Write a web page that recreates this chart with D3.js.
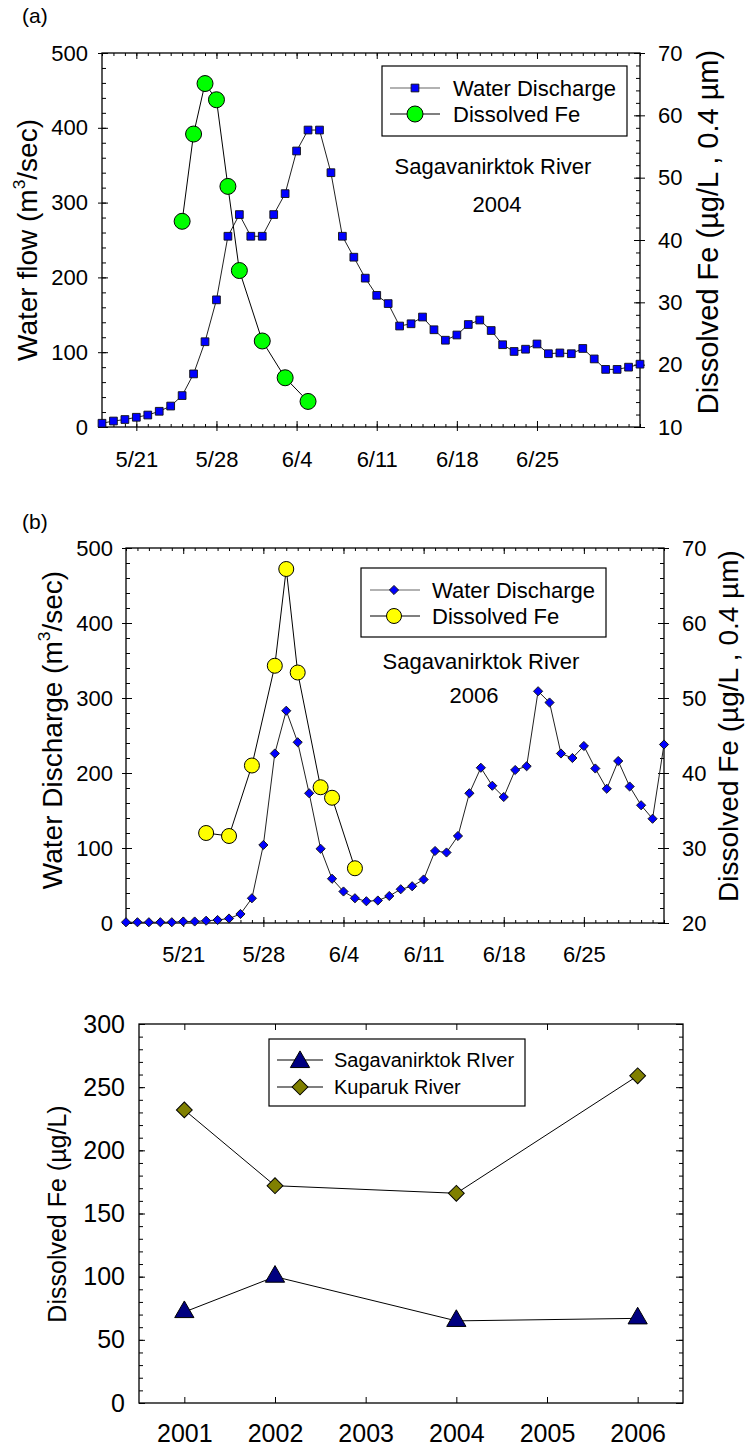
<!DOCTYPE html>
<html>
<head>
<meta charset="utf-8">
<script src="https://cdn.jsdelivr.net/npm/d3@7"></script>
<style>
  body { margin: 0; background: #fff; }
  svg text { font-family: "Liberation Sans", Arial, sans-serif; fill: #000; }
</style>
</head>
<body>
<svg id="fig" width="746" height="1448"></svg>
<script>
// ---- (a) Sagavanirktok River, 2004: daily discharge from 18 May ----
const flowStart2004 = "2004-05-18";
const flow2004 = [5, 8, 10, 13, 16, 21, 28, 42, 71, 114,
  170, 255, 284, 255, 255, 284, 312, 369, 397, 397,
  340, 255, 227, 199, 176, 165, 135, 138, 147, 130,
  116, 123, 137, 143, 129, 110, 101, 104, 111, 98,
  99, 98, 105, 91, 77, 77, 80, 84];
const feDates2004 = ["2004-05-25", "2004-05-26", "2004-05-27", "2004-05-28", "2004-05-29",
  "2004-05-30", "2004-06-01", "2004-06-03", "2004-06-05"];
const fe2004 = [43.0, 57.0, 65.1, 62.5, 48.6, 35.1, 23.8, 17.9, 14.1];

// ---- (b) Sagavanirktok River, 2006: daily discharge from 16 May ----
const flowStart2006 = "2006-05-16";
const flow2006 = [1, 1, 1, 1, 1, 2, 2, 3, 4, 6,
  12, 33, 104, 226, 283, 241, 173, 99, 59, 42,
  33, 29, 30, 36, 45, 49, 58, 96, 94, 116,
  173, 207, 183, 168, 204, 209, 309, 294, 226, 220,
  236, 206, 179, 216, 182, 157, 139, 238];
const feDates2006 = ["2006-05-23", "2006-05-25", "2006-05-27", "2006-05-29", "2006-05-30",
  "2006-05-31", "2006-06-02", "2006-06-03", "2006-06-05"];
const fe2006 = [32.0, 31.6, 41.0, 54.3, 67.2, 53.4, 38.1, 36.7, 27.3];

// shared tick labels for the discharge panels
const dateTickLabels = ["5/21", "5/28", "6/4", "6/11", "6/18", "6/25"];
const flowTicks = [0, 100, 200, 300, 400, 500];
const feTicks2004 = [10, 20, 30, 40, 50, 60, 70];
const feTicks2006 = [20, 30, 40, 50, 60, 70];

// ---- (c) annual dissolved Fe ----
const years = [2001, 2002, 2004, 2006];
const sagFe = [72, 100, 65, 67];
const kupFe = [232, 172, 166, 259];
const yearTickLabels = ["2001", "2002", "2003", "2004", "2005", "2006"];
const annualFeTicks = [0, 50, 100, 150, 200, 250, 300];

const FONT = '"Liberation Sans", Arial, sans-serif';
const svg = d3.select("#fig");
svg.append("rect").attr("width", 746).attr("height", 1448).attr("fill", "#fff");

const parseDay = d3.utcParse("%Y-%m-%d");
const parseMD = d3.utcParse("%Y/%m/%d");

function addAxis(g, axis, tx, ty, size) {
  const a = g.append("g")
    .attr("transform", `translate(${tx},${ty})`)
    .call(axis);
  a.attr("font-family", FONT).attr("font-size", size || 10);
  a.select(".domain").remove();
  a.selectAll("line").attr("stroke", "#000").attr("stroke-width", 1);
  a.selectAll("text").attr("fill", "#000").style("font-size", (size || 10) + "px");
  return a;
}

function rotatedTitle(g, x, y, size, parts) {
  const t = g.append("text")
    .attr("transform", `translate(${x},${y}) rotate(-90)`)
    .attr("text-anchor", "middle")
    .style("font-size", size + "px");
  parts.forEach(p => {
    if (p.sup) {
      t.append("tspan").attr("dy", -size * 0.42).style("font-size", (size * 0.62) + "px").text(p.t);
    } else if (p.after) {
      t.append("tspan").attr("dy", size * 0.42).text(p.t);
    } else {
      t.append("tspan").text(p.t);
    }
  });
}

function frame(g, o) {
  g.append("rect")
    .attr("x", o.left).attr("y", o.top)
    .attr("width", o.right - o.left).attr("height", o.bottom - o.top)
    .attr("fill", "none").attr("stroke", "#000").attr("stroke-width", 1.3);
}

const squareMarker = d3.symbol().type(d3.symbolSquare);

function timePanel(o) {
  const g = svg.append("g");
  const start = parseDay(o.start);
  const days = d3.utcDay.range(start, d3.utcDay.offset(start, o.flow.length));
  const year = o.start.slice(0, 4);
  const majors = dateTickLabels.map(s => parseMD(year + "/" + s));

  const x = d3.scaleUtc().domain([days[0], days[days.length - 1]]).range([o.left, o.right]);
  const y = d3.scaleLinear().domain([0, 500]).range([o.bottom, o.top]);
  const y2 = d3.scaleLinear().domain([o.feTicks[0], o.feTicks[o.feTicks.length - 1]]).range([o.bottom, o.top]);

  // bottom / top date ticks
  addAxis(g, d3.axisBottom(x).tickValues(days).tickSize(-3).tickFormat(""), 0, o.bottom);
  addAxis(g, d3.axisBottom(x).tickValues(majors).tickSize(-6).tickFormat(""), 0, o.bottom);
  addAxis(g, d3.axisBottom(x).tickValues(majors).tickSizeInner(4).tickSizeOuter(0)
    .tickPadding(o.xPad).tickFormat((d, i) => dateTickLabels[i]), 0, o.bottom, o.tick);
  addAxis(g, d3.axisTop(x).tickValues(days).tickSize(-3).tickFormat(""), 0, o.top);
  addAxis(g, d3.axisTop(x).tickValues(majors).tickSize(-6).tickFormat(""), 0, o.top);

  // left discharge axis
  addAxis(g, d3.axisLeft(y).tickValues(d3.range(0, 501, 20)).tickSize(-4).tickFormat(""), o.left, 0);
  addAxis(g, d3.axisLeft(y).tickValues(flowTicks).tickSize(-6).tickFormat(""), o.left, 0);
  addAxis(g, d3.axisLeft(y).tickValues(flowTicks).tickSizeInner(4).tickSizeOuter(0)
    .tickPadding(o.yPad).tickFormat(d3.format("d")), o.left, 0, o.tick);

  // right Fe axis
  addAxis(g, d3.axisRight(y2).tickValues(d3.range(o.feTicks[0], o.feTicks[o.feTicks.length - 1] + 0.1, 2))
    .tickSize(-4).tickFormat(""), o.right, 0);
  addAxis(g, d3.axisRight(y2).tickValues(o.feTicks).tickSize(-6).tickFormat(""), o.right, 0);
  addAxis(g, d3.axisRight(y2).tickValues(o.feTicks).tickSizeInner(5).tickSizeOuter(0)
    .tickPadding(o.y2Pad).tickFormat(d3.format("d")), o.right, 0, o.tick);

  frame(g, o);

  // discharge series
  const flowPts = days.map((d, i) => ({ d, v: o.flow[i] }));
  g.append("path").datum(flowPts)
    .attr("fill", "none").attr("stroke", "#222").attr("stroke-width", 1)
    .attr("d", d3.line().x(p => x(p.d)).y(p => y(p.v)));
  g.append("g").selectAll("path").data(flowPts).join("path")
    .attr("transform", p => `translate(${x(p.d)},${y(p.v)})` + (o.flowMarker === "diamond" ? " rotate(45)" : ""))
    .attr("d", squareMarker.size(o.flowSize)())
    .attr("fill", "#0000ff").attr("stroke", "#111").attr("stroke-width", 0.9);

  // dissolved Fe series
  const fePts = o.feDates.map((s, i) => ({ d: parseDay(s), v: o.fe[i] }));
  g.append("path").datum(fePts)
    .attr("fill", "none").attr("stroke", "#000").attr("stroke-width", 1)
    .attr("d", d3.line().x(p => x(p.d)).y(p => y2(p.v)));
  g.append("g").selectAll("circle").data(fePts).join("circle")
    .attr("cx", p => x(p.d)).attr("cy", p => y2(p.v)).attr("r", o.feR)
    .attr("fill", o.feColor).attr("stroke", "#000").attr("stroke-width", 1);

  // legend
  const L = o.legend;
  g.append("rect").attr("x", L.x).attr("y", L.y).attr("width", L.w).attr("height", L.h)
    .attr("fill", "#fff").attr("stroke", "#000").attr("stroke-width", 1.2);
  const rows = [
    { label: "Water Discharge", y: L.y + L.r1 },
    { label: "Dissolved Fe", y: L.y + L.r2 }
  ];
  g.append("line").attr("x1", L.x + L.l1).attr("x2", L.x + L.l2).attr("y1", rows[0].y).attr("y2", rows[0].y)
    .attr("stroke", "#666").attr("stroke-width", 1.2);
  g.append("path")
    .attr("transform", `translate(${L.x + L.m},${rows[0].y})` + (o.flowMarker === "diamond" ? " rotate(45)" : ""))
    .attr("d", squareMarker.size(o.flowSize)())
    .attr("fill", "#0000ff").attr("stroke", "#111").attr("stroke-width", 0.9);
  g.append("line").attr("x1", L.x + L.l1).attr("x2", L.x + L.l2).attr("y1", rows[1].y).attr("y2", rows[1].y)
    .attr("stroke", "#000").attr("stroke-width", 1.2);
  g.append("circle").attr("cx", L.x + L.m).attr("cy", rows[1].y).attr("r", o.feR)
    .attr("fill", o.feColor).attr("stroke", "#000");
  rows.forEach(r => g.append("text").attr("x", L.x + L.t).attr("y", r.y).attr("dy", "0.36em")
    .style("font-size", o.legendSize + "px").text(r.label));

  // station annotation
  g.append("text").attr("x", o.note.x).attr("y", o.note.y1).attr("text-anchor", "middle")
    .style("font-size", o.legendSize + "px").text("Sagavanirktok River");
  g.append("text").attr("x", o.note.x2).attr("y", o.note.y2).attr("text-anchor", "middle")
    .style("font-size", o.legendSize + "px").text(year);

  // panel letter and axis titles
  g.append("text").attr("x", 22).attr("y", o.letterY).style("font-size", "21px").text(o.letter);
  rotatedTitle(g, o.leftTitleX, o.titleY, o.titleSize,
    [{ t: o.leftTitle + " (m" }, { t: "3", sup: true }, { t: "/sec)", after: true }]);
  rotatedTitle(g, o.rightTitleX, o.rightTitleY, o.rightTitleSize, [{ t: "Dissolved Fe (µg/L , 0.4 µm)" }]);
}

timePanel({
  start: flowStart2004, flow: flow2004, feDates: feDates2004, fe: fe2004, feTicks: feTicks2004,
  left: 102, right: 640, top: 53, bottom: 427,
  xPad: 20, yPad: 10, y2Pad: 13, tick: 22,
  flowMarker: "square", flowSize: 60, feR: 8, feColor: "#00ff00",
  legend: { x: 382, y: 66, w: 245, h: 70, r1: 22, r2: 48, l1: 8, l2: 58, m: 33, t: 71 },
  legendSize: 22,
  note: { x: 493, y1: 174, x2: 497, y2: 212 },
  letter: "(a)", letterY: 23,
  leftTitle: "Water flow", leftTitleX: 37, titleY: 240, titleSize: 28,
  rightTitleX: 718, rightTitleY: 232, rightTitleSize: 29
});

timePanel({
  start: flowStart2006, flow: flow2006, feDates: feDates2006, fe: fe2006, feTicks: feTicks2006,
  left: 126, right: 664, top: 548, bottom: 923,
  xPad: 19, yPad: 9, y2Pad: 13, tick: 22,
  flowMarker: "diamond", flowSize: 42, feR: 7.5, feColor: "#ffff00",
  legend: { x: 361, y: 568, w: 245, h: 69, r1: 22, r2: 48, l1: 9, l2: 59, m: 33, t: 71 },
  legendSize: 22,
  note: { x: 481, y1: 669, x2: 474, y2: 703 },
  letter: "(b)", letterY: 529,
  leftTitle: "Water Discharge", leftTitleX: 62, titleY: 730, titleSize: 28,
  rightTitleX: 738, rightTitleY: 726, rightTitleSize: 28
});

// ---- (c) annual dissolved Fe at the two rivers ----
(function () {
  const o = { left: 139, right: 683, top: 1024, bottom: 1403 };
  const g = svg.append("g");
  const x = d3.scaleLinear().domain([2000.5, 2006.5]).range([o.left, o.right]);
  const y = d3.scaleLinear().domain([0, 300]).range([o.bottom, o.top]);
  const yearTicks = yearTickLabels.map(Number);

  addAxis(g, d3.axisBottom(x).tickValues(yearTicks).tickSizeInner(-6).tickSizeOuter(0)
    .tickPadding(21).tickFormat((d, i) => yearTickLabels[i]), 0, o.bottom, 25);
  addAxis(g, d3.axisTop(x).tickValues(yearTicks).tickSize(-6).tickFormat(""), 0, o.top);
  addAxis(g, d3.axisLeft(y).tickValues(d3.range(0, 301, 10)).tickSize(-4).tickFormat(""), o.left, 0);
  addAxis(g, d3.axisLeft(y).tickValues(annualFeTicks).tickSizeInner(-6).tickSizeOuter(0)
    .tickPadding(14).tickFormat(d3.format("d")), o.left, 0, 25);
  addAxis(g, d3.axisRight(y).tickValues(d3.range(0, 301, 10)).tickSize(-4).tickFormat(""), o.right, 0);
  addAxis(g, d3.axisRight(y).tickValues(annualFeTicks).tickSize(-7).tickFormat(""), o.right, 0);
  frame(g, o);

  const line = d3.line().x(p => x(p.yr)).y(p => y(p.v));
  const sag = years.map((yr, i) => ({ yr, v: sagFe[i] }));
  const kup = years.map((yr, i) => ({ yr, v: kupFe[i] }));
  const tri = d3.symbol().type(d3.symbolTriangle).size(160)();
  const dia = d3.symbol().type(d3.symbolSquare).size(125)();

  g.append("path").datum(kup).attr("fill", "none").attr("stroke", "#000").attr("stroke-width", 1).attr("d", line);
  g.append("path").datum(sag).attr("fill", "none").attr("stroke", "#000").attr("stroke-width", 1).attr("d", line);
  g.append("g").selectAll("path").data(kup).join("path")
    .attr("transform", p => `translate(${x(p.yr)},${y(p.v)}) rotate(45)`)
    .attr("d", dia).attr("fill", "#808000").attr("stroke", "#000").attr("stroke-width", 1);
  g.append("g").selectAll("path").data(sag).join("path")
    .attr("transform", p => `translate(${x(p.yr)},${y(p.v)})`)
    .attr("d", tri).attr("fill", "#000080").attr("stroke", "#000").attr("stroke-width", 1);

  // legend
  const L = { x: 269, y: 1039, w: 256, h: 67 };
  g.append("rect").attr("x", L.x).attr("y", L.y).attr("width", L.w).attr("height", L.h)
    .attr("fill", "#fff").attr("stroke", "#000").attr("stroke-width", 1.2);
  const r1 = 1060, r2 = 1087;
  [r1, r2].forEach(ry => g.append("line").attr("x1", 277).attr("x2", 323).attr("y1", ry).attr("y2", ry)
    .attr("stroke", "#000").attr("stroke-width", 1.2));
  g.append("path").attr("transform", `translate(300,${r1 + 2})`).attr("d", tri)
    .attr("fill", "#000080").attr("stroke", "#000");
  g.append("path").attr("transform", `translate(300,${r2}) rotate(45)`).attr("d", dia)
    .attr("fill", "#808000").attr("stroke", "#000");
  g.append("text").attr("x", 334).attr("y", r1).attr("dy", "0.36em").style("font-size", "20px").text("Sagavanirktok RIver");
  g.append("text").attr("x", 334).attr("y", r2).attr("dy", "0.36em").style("font-size", "20px").text("Kuparuk River");

  rotatedTitle(g, 66, 1214, 25, [{ t: "Dissolved Fe (µg/L)" }]);
})();
</script>
</body>
</html>
